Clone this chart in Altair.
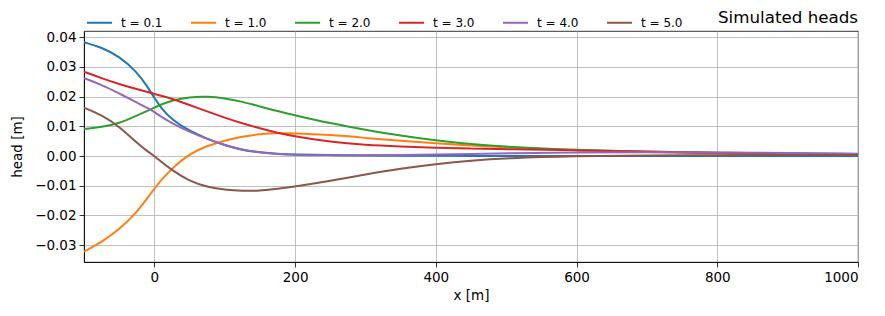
import altair as alt
import pandas as pd

x_vals = [-100, -75, -50, -25, -10, 0, 10, 25, 50, 75, 100, 125, 150, 175, 200, 250, 300,
          350, 400, 450, 500, 600, 700, 800, 900, 1000]

h_t01 = [0.0383, 0.0366, 0.0336, 0.0284, 0.0234, 0.0196, 0.0160, 0.0122, 0.0084, 0.0058,
         0.0036, 0.0020, 0.0012, 0.0007, 0.0005, 0.0003, 0.0002, 0.0001, 0.0001, 0.0000,
         0.0000, 0.0000, 0.0000, 0.0000, 0.0000, 0.0000]
h_t10 = [-0.0322, -0.0290, -0.0248, -0.0190, -0.0142, -0.0110, -0.0080, -0.0042, 0.0008, 0.0034,
         0.0052, 0.0066, 0.0074, 0.0077, 0.0077, 0.0071, 0.0061, 0.0051, 0.0043, 0.0035,
         0.0029, 0.0019, 0.0013, 0.0009, 0.0006, 0.0004]
h_t20 = [0.0091, 0.0097, 0.0110, 0.0136, 0.0152, 0.0163, 0.0174, 0.0187, 0.0199, 0.0201,
         0.0195, 0.0183, 0.0167, 0.0151, 0.0137, 0.0110, 0.0088, 0.0068, 0.0052, 0.0040,
         0.0031, 0.0020, 0.0014, 0.0010, 0.0007, 0.0005]
h_t30 = [0.0284, 0.0262, 0.0242, 0.0225, 0.0216, 0.0209, 0.0203, 0.0193, 0.0172, 0.0150,
         0.0129, 0.0110, 0.0093, 0.0078, 0.0066, 0.0047, 0.0037, 0.0032, 0.0028, 0.0025,
         0.0023, 0.0019, 0.0015, 0.0011, 0.0008, 0.0006]
h_t40 = [0.0262, 0.0240, 0.0211, 0.0180, 0.0162, 0.0148, 0.0132, 0.0110, 0.0081, 0.0057,
         0.0036, 0.0021, 0.0012, 0.0006, 0.0003, 0.0002, 0.0002, 0.0003, 0.0005, 0.0007,
         0.0009, 0.0012, 0.0013, 0.0012, 0.0010, 0.0008]
h_t50 = [0.0163, 0.0138, 0.0100, 0.0044, 0.0016, 0.0000, -0.0020, -0.0048, -0.0085, -0.0104,
         -0.0114, -0.0118, -0.0117, -0.0111, -0.0103, -0.0084, -0.0062, -0.0042, -0.0027, -0.0015,
         -0.0007, 0.0000, 0.0002, 0.0003, 0.0003, 0.0003]

labels = ["t = 0.1", "t = 1.0", "t = 2.0", "t = 3.0", "t = 4.0", "t = 5.0"]
series = [h_t01, h_t10, h_t20, h_t30, h_t40, h_t50]
colors = ["#1f77b4", "#ff7f0e", "#2ca02c", "#d62728", "#9467bd", "#8c564b"]
x_ticks = [0, 200, 400, 600, 800, 1000]
y_ticks = [-0.03, -0.02, -0.01, 0.0, 0.01, 0.02, 0.03, 0.04]
chart_title = ["Simulated heads"]

rows = []
for lab, vals in zip(labels, series):
    for xv, hv in zip(x_vals, vals):
        rows.append({"x": xv, "head": hv, "series": lab})
df = pd.DataFrame(rows)

FONT = "DejaVu Sans"

lines = alt.Chart(df).mark_line(strokeWidth=2, interpolate="basis", clip=True).encode(
    x=alt.X("x:Q", title="x [m]",
            scale=alt.Scale(domain=[-100, 1000], nice=False, zero=False),
            axis=alt.Axis(values=x_ticks, format="d", titlePadding=5)),
    y=alt.Y("head:Q", title="head [m]",
            scale=alt.Scale(domain=[-0.0357, 0.0421], nice=False, zero=False),
            axis=alt.Axis(values=y_ticks, format=".2f", titlePadding=10)),
    color=alt.Color("series:N", sort=labels,
                    scale=alt.Scale(domain=labels, range=colors),
                    legend=alt.Legend(title=None, orient="none", direction="horizontal",
                                      legendX=2, legendY=-22, symbolType="stroke",
                                      symbolSize=625, symbolStrokeWidth=2,
                                      labelFontSize=12, labelFont=FONT, labelOffset=8,
                                      labelColor="black",
                                      columnPadding=24, padding=0)),
)

title_text = alt.Chart(pd.DataFrame({"t": chart_title})).mark_text(
    align="right", baseline="alphabetic", fontSize=16.7, font=FONT, color="black"
).encode(
    x=alt.value(774), y=alt.value(-8), text="t:N"
)

chart = alt.layer(lines, title_text).properties(
    width=774, height=231,
    padding={"left": 84, "top": 31, "right": 27, "bottom": 54},
    autosize=alt.AutoSizeParams(type="none"),
    background="white",
).configure_axis(
    labelFont=FONT, titleFont=FONT, labelFontSize=13.5, titleFontSize=13.5,
    titleFontWeight="normal", labelColor="black", titleColor="black",
    grid=True, gridColor="#b0b0b0", gridWidth=0.8,
    domainColor="black", domainWidth=0.8, tickColor="black", tickWidth=0.8, tickSize=5,
    labelPadding=3,
).configure_view(
    stroke="black", strokeWidth=0.8
)

chart.save("out.html", embed_options={"renderer": "svg", "actions": False})
